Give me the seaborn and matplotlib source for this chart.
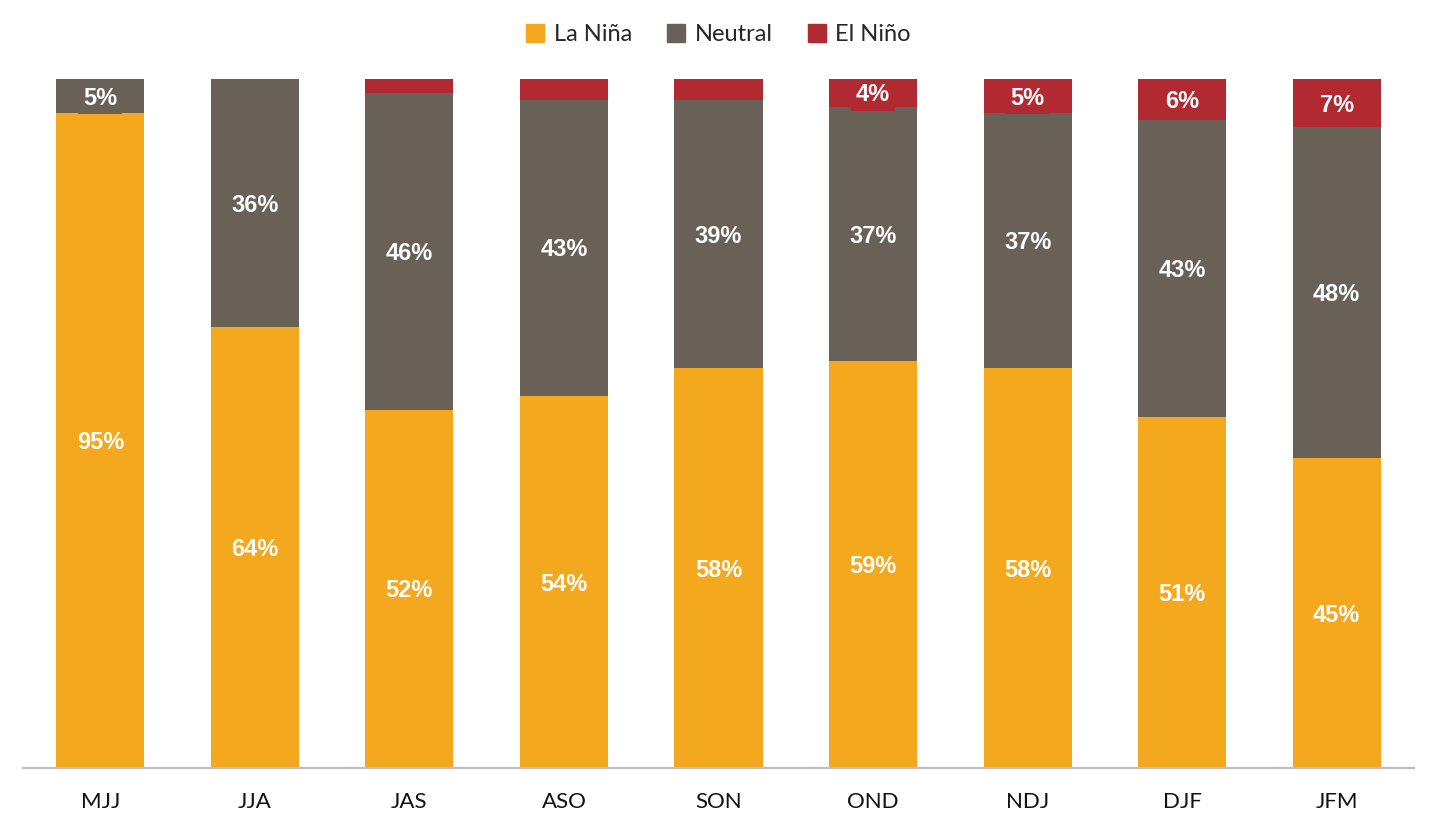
import numpy as np
import pandas as pd
import matplotlib
matplotlib.use("Agg")
import matplotlib.pyplot as plt
import seaborn as sns
from matplotlib.patches import Patch

periods = ["MJJ", "JJA", "JAS", "ASO", "SON", "OND", "NDJ", "DJF", "JFM"]
la_nina = [95, 64, 52, 54, 58, 59, 58, 51, 45]
neutral = [5, 36, 46, 43, 39, 37, 37, 43, 48]
el_nino = [0, 0, 2, 3, 3, 4, 5, 6, 7]

c_nina = "#F4A81E"
c_neut = "#696158"
c_nino = "#B22A31"

df = pd.DataFrame({"period": periods, "La Niña": la_nina,
                   "Neutral": neutral, "El Niño": el_nino})
df["top_neut"] = df["La Niña"] + df["Neutral"]
df["top_nino"] = df["top_neut"] + df["El Niño"]

sns.set_style("white")
plt.rcParams["font.family"] = ["Lato", "DejaVu Sans"]

fig = plt.figure(figsize=(14.37, 8.26), dpi=100)
ax = fig.add_axes([0.0160, 0.0702, 0.9680, 0.8342])

w = 0.57
sns.barplot(data=df, x="period", y="top_nino", color=c_nino, width=w,
            saturation=1, ax=ax, linewidth=0)
sns.barplot(data=df, x="period", y="top_neut", color=c_neut, width=w,
            saturation=1, ax=ax, linewidth=0)
sns.barplot(data=df, x="period", y="La Niña", color=c_nina, width=w,
            saturation=1, ax=ax, linewidth=0)

# data labels (small El Niño shares are left unlabeled)
for i in range(len(periods)):
    segs = [(0, la_nina[i], c_nina), (la_nina[i], neutral[i], c_neut),
            (la_nina[i] + neutral[i], el_nino[i], c_nino)]
    for base, val, col in segs:
        if val < 4:
            continue
        ax.text(i, base + val / 2 - 0.3, f"{val}%", ha="center", va="center",
                color="white", fontsize=17, fontweight="bold",
                family="Liberation Sans",
                bbox=dict(boxstyle="square,pad=0.2", fc=col, ec="none"))

ax.set_xlim(-0.5, 8.5)
ax.set_ylim(0, 100)
ax.set_xlabel("")
ax.set_ylabel("")
ax.set_yticks([])
ax.tick_params(axis="x", length=0, labelsize=16, pad=17, colors="#111111")
for s in ["left", "right", "top"]:
    ax.spines[s].set_visible(False)
ax.spines["bottom"].set_color("#BFBFBF")
ax.spines["bottom"].set_linewidth(1.6)

handles = [Patch(color=c_nina, label="La Niña"),
           Patch(color=c_neut, label="Neutral"),
           Patch(color=c_nino, label="El Niño")]
fig.legend(handles=handles, loc="center", bbox_to_anchor=(0.5, 0.958),
           ncol=3, frameon=False, fontsize=17, handlelength=0.75,
           handleheight=0.75, handletextpad=0.4, columnspacing=1.5)

fig.savefig("out.png", dpi=100)
